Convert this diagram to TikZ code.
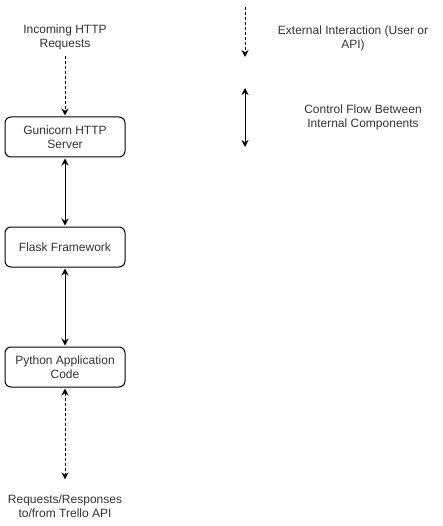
\documentclass[tikz,border=0pt]{standalone}
\usepackage{fontspec}
\setmainfont{Liberation Sans}
\usetikzlibrary{arrows.meta,positioning}

\begin{document}
\begin{tikzpicture}[x=1pt, y=-1pt, font=\fontsize{12}{14}\selectfont,
    component/.style={draw, rounded corners=6pt, minimum width=120pt, minimum height=40pt, align=center, line width=1pt, text=black!80},
    note/.style={align=center, inner sep=6pt, text=black!80},
    flow/.style={{Stealth[length=7pt,width=7pt]}-{Stealth[length=7pt,width=7pt]}, line width=1pt},
    external/.style={-{Stealth[length=7pt,width=7pt]}, dash pattern=on 3pt off 2pt, line width=1pt},
    exchange/.style={{Stealth[length=7pt,width=7pt]}-{Stealth[length=7pt,width=7pt]}, dash pattern=on 3pt off 2pt, line width=1pt}]

    \useasboundingbox (0,0) rectangle (442,526);

    % main stack
    \node[note] (incoming) at (65,37) {Incoming HTTP\\Requests};
    \node[component] (gunicorn) at (65,137) {Gunicorn HTTP\\Server};
    \node[component] (flask) at (65,247) {Flask Framework};
    \node[component] (python) at (65,367) {Python Application\\Code};
    \node[note] (trello) at (65,506) {Requests/Responses\\to/from Trello API};

    \draw[external, shorten >=1pt] (incoming) -- (gunicorn);
    \draw[flow, shorten <=1pt, shorten >=1pt] (gunicorn) -- (flask);
    \draw[flow, shorten <=1pt, shorten >=1pt] (flask) -- (python);
    \draw[exchange, shorten <=1pt, shorten >=9pt] (python) -- (trello);

    % legend
    \coordinate (ext top) at (245,7);
    \coordinate (ext bottom) at (245,57);
    \draw[external] (ext top) -- (ext bottom);
    \node[note] (ext note) at (353,38) {External Interaction (User or\\API)};

    \coordinate (ctl top) at (245,88);
    \coordinate (ctl bottom) at (245,147);
    \draw[flow] (ctl top) -- (ctl bottom);
    \node[note] (ctl note) at (363,117) {Control Flow Between\\Internal Components};
\end{tikzpicture}
\end{document}
